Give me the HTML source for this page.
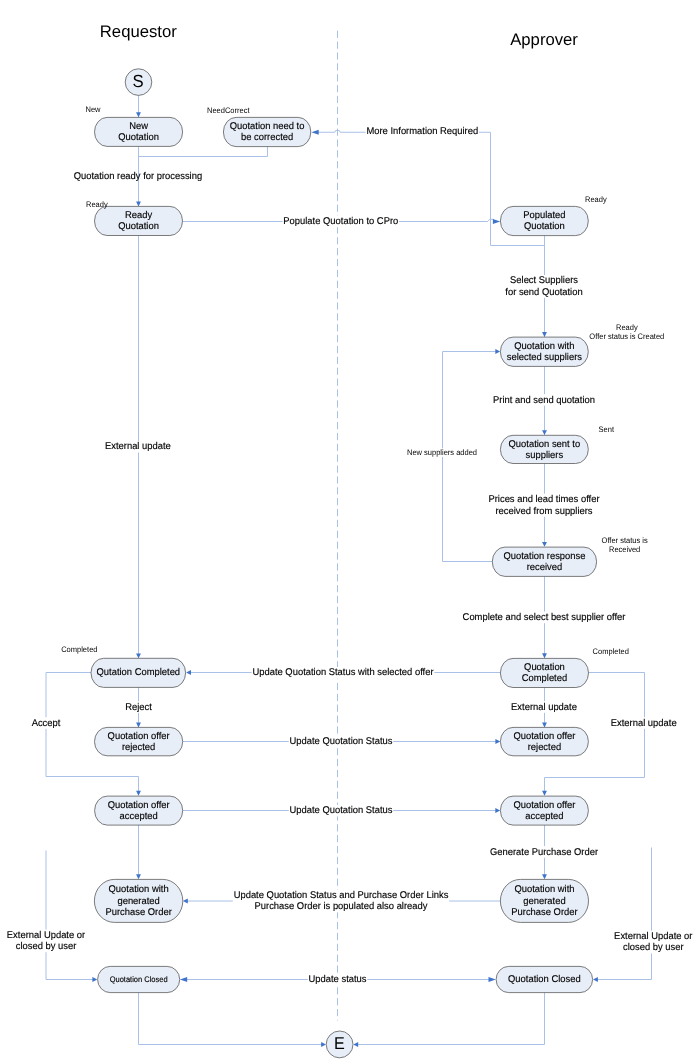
<!DOCTYPE html>
<html lang="en">
<head>
<meta charset="utf-8">
<title>Quotation workflow</title>
<style>
html, body { margin: 0; padding: 0; background: #ffffff; }
body { width: 700px; height: 1060px; overflow: hidden; }
svg { display: block; will-change: transform; }
svg text { font-family: "Liberation Sans", sans-serif; fill: #000; text-rendering: geometricPrecision; }
svg text.b { stroke: #000; stroke-width: 0.14px; }
</style>
</head>
<body>
<svg width="700" height="1060" viewBox="0 0 700 1060">
<rect x="0" y="0" width="700" height="1060" fill="#ffffff"/>
<path d="M337.5,30.7 L337.5,1020.5" fill="none" stroke="#a9c1e6" stroke-width="1" stroke-dasharray="7.2 3.67"/>
<path d="M138.50,95.00 L138.50,117.00" fill="none" stroke="#a9c1e6" stroke-width="1"/>
<polygon points="138.50,117.20 136.05,112.30 140.95,112.30" fill="#3f74cc"/>
<path d="M138.50,146.00 L138.50,206.00" fill="none" stroke="#a9c1e6" stroke-width="1"/>
<polygon points="138.50,206.40 136.05,201.50 140.95,201.50" fill="#3f74cc"/>
<path d="M267.50,146.00 L267.50,156.50 L138.50,156.50" fill="none" stroke="#a9c1e6" stroke-width="1"/>
<path d="M544.5,245.5 L490.5,245.5 L490.5,132.25 L340.2,132.25 A2.7,2.1 0 0 0 334.8,132.25 L315,132.25" fill="none" stroke="#a9c1e6" stroke-width="1"/>
<polygon points="311.40,132.25 318.70,129.65 318.70,134.85" fill="#3f74cc"/>
<path d="M182.5,221.5 L487.2,221.5 Q488.3,221.5 488.7,220.4 Q489.1,219.3 490.2,219.3 L493.5,219.3" fill="none" stroke="#a9c1e6" stroke-width="1"/>
<polygon points="500.20,221.50 492.90,218.90 492.90,224.10" fill="#3f74cc"/>
<path d="M138.50,235.00 L138.50,658.00" fill="none" stroke="#a9c1e6" stroke-width="1"/>
<polygon points="138.50,658.30 136.05,653.40 140.95,653.40" fill="#3f74cc"/>
<path d="M544.50,235.00 L544.50,337.00" fill="none" stroke="#a9c1e6" stroke-width="1"/>
<polygon points="544.50,337.00 542.05,332.10 546.95,332.10" fill="#3f74cc"/>
<path d="M544.50,366.00 L544.50,435.00" fill="none" stroke="#a9c1e6" stroke-width="1"/>
<polygon points="544.50,435.10 542.05,430.20 546.95,430.20" fill="#3f74cc"/>
<path d="M544.50,463.00 L544.50,546.00" fill="none" stroke="#a9c1e6" stroke-width="1"/>
<polygon points="544.50,546.80 542.05,541.90 546.95,541.90" fill="#3f74cc"/>
<path d="M492.50,561.50 L442.50,561.50 L442.50,351.50 L497.00,351.50" fill="none" stroke="#a9c1e6" stroke-width="1"/>
<polygon points="500.20,351.50 495.30,349.05 495.30,353.95" fill="#3f74cc"/>
<path d="M544.50,576.00 L544.50,658.00" fill="none" stroke="#a9c1e6" stroke-width="1"/>
<polygon points="544.50,658.20 542.05,653.30 546.95,653.30" fill="#3f74cc"/>
<path d="M500.40,672.50 L189.00,672.50" fill="none" stroke="#a9c1e6" stroke-width="1"/>
<polygon points="186.10,672.50 191.00,670.05 191.00,674.95" fill="#3f74cc"/>
<path d="M544.50,687.00 L544.50,727.00" fill="none" stroke="#a9c1e6" stroke-width="1"/>
<polygon points="544.50,727.40 542.05,722.50 546.95,722.50" fill="#3f74cc"/>
<path d="M588.50,672.50 L644.50,672.50 L644.50,777.50 L544.50,777.50 L544.50,795.00" fill="none" stroke="#a9c1e6" stroke-width="1"/>
<polygon points="544.50,795.70 542.05,790.80 546.95,790.80" fill="#3f74cc"/>
<path d="M138.50,687.00 L138.50,727.00" fill="none" stroke="#a9c1e6" stroke-width="1"/>
<polygon points="138.50,727.40 136.05,722.50 140.95,722.50" fill="#3f74cc"/>
<path d="M91.20,672.50 L46.00,672.50 L46.00,776.50 L138.50,776.50 L138.50,795.00" fill="none" stroke="#a9c1e6" stroke-width="1"/>
<polygon points="138.50,795.70 136.05,790.80 140.95,790.80" fill="#3f74cc"/>
<path d="M182.80,741.50 L497.00,741.50" fill="none" stroke="#a9c1e6" stroke-width="1"/>
<polygon points="500.30,741.50 495.40,739.05 495.40,743.95" fill="#3f74cc"/>
<path d="M182.80,810.50 L497.00,810.50" fill="none" stroke="#a9c1e6" stroke-width="1"/>
<polygon points="500.20,810.50 495.30,808.05 495.30,812.95" fill="#3f74cc"/>
<path d="M138.50,825.00 L138.50,878.00" fill="none" stroke="#a9c1e6" stroke-width="1"/>
<polygon points="138.50,879.20 136.05,874.30 140.95,874.30" fill="#3f74cc"/>
<path d="M544.50,825.00 L544.50,878.00" fill="none" stroke="#a9c1e6" stroke-width="1"/>
<polygon points="544.50,879.20 542.05,874.30 546.95,874.30" fill="#3f74cc"/>
<path d="M500.40,901.00 L186.00,901.00" fill="none" stroke="#a9c1e6" stroke-width="1"/>
<polygon points="182.90,901.00 187.80,898.55 187.80,903.45" fill="#3f74cc"/>
<path d="M46.00,850.50 L46.00,979.50 L94.00,979.50" fill="none" stroke="#a9c1e6" stroke-width="1"/>
<polygon points="97.30,979.50 92.40,977.05 92.40,981.95" fill="#3f74cc"/>
<path d="M651.50,847.50 L651.50,979.50 L596.00,979.50" fill="none" stroke="#a9c1e6" stroke-width="1"/>
<polygon points="593.00,979.50 597.90,977.05 597.90,981.95" fill="#3f74cc"/>
<path d="M184.00,979.50 L492.00,979.50" fill="none" stroke="#a9c1e6" stroke-width="1"/>
<polygon points="179.90,979.50 187.20,976.90 187.20,982.10" fill="#3f74cc"/>
<polygon points="495.80,979.50 488.50,976.90 488.50,982.10" fill="#3f74cc"/>
<path d="M138.50,992.50 L138.50,1044.50 L323.00,1044.50" fill="none" stroke="#a9c1e6" stroke-width="1"/>
<polygon points="326.00,1044.50 321.10,1042.05 321.10,1046.95" fill="#3f74cc"/>
<path d="M544.50,992.50 L544.50,1044.50 L356.00,1044.50" fill="none" stroke="#a9c1e6" stroke-width="1"/>
<polygon points="353.30,1044.50 358.20,1042.05 358.20,1046.95" fill="#3f74cc"/>
<text class="b" transform="translate(137.90,179.00) scale(0.9592,1)" font-size="9.8" text-anchor="middle">Quotation ready for processing</text>
<rect x="365.60" y="125.60" width="113.41" height="11.60" fill="#fff"/>
<text class="b" transform="translate(422.30,134.00) scale(0.9592,1)" font-size="9.8" text-anchor="middle">More Information Required</text>
<rect x="282.52" y="215.60" width="116.56" height="11.60" fill="#fff"/>
<text class="b" transform="translate(340.80,224.00) scale(0.9592,1)" font-size="9.8" text-anchor="middle">Populate Quotation to CPro</text>
<rect x="504.53" y="275.00" width="78.94" height="22.80" fill="#fff"/>
<text class="b" transform="translate(544.00,283.40) scale(0.9592,1)" font-size="9.8" text-anchor="middle">Select Suppliers</text>
<text class="b" transform="translate(544.00,294.60) scale(0.9592,1)" font-size="9.8" text-anchor="middle">for send Quotation</text>
<rect x="492.25" y="394.10" width="103.51" height="11.60" fill="#fff"/>
<text class="b" transform="translate(544.00,402.50) scale(0.9592,1)" font-size="9.8" text-anchor="middle">Print and send quotation</text>
<rect x="487.64" y="493.60" width="112.72" height="23.20" fill="#fff"/>
<text class="b" transform="translate(544.00,502.00) scale(0.9592,1)" font-size="9.8" text-anchor="middle">Prices and lead times offer</text>
<text class="b" transform="translate(544.00,513.60) scale(0.9592,1)" font-size="9.8" text-anchor="middle">received from suppliers</text>
<rect x="461.77" y="611.60" width="164.45" height="11.60" fill="#fff"/>
<text class="b" transform="translate(544.00,620.00) scale(0.9592,1)" font-size="9.8" text-anchor="middle">Complete and select best supplier offer</text>
<rect x="104.18" y="440.90" width="67.45" height="11.60" fill="#fff"/>
<text class="b" transform="translate(137.90,449.30) scale(0.9592,1)" font-size="9.8" text-anchor="middle">External update</text>
<rect x="251.63" y="667.00" width="182.75" height="11.60" fill="#fff"/>
<text class="b" transform="translate(343.00,675.40) scale(0.9592,1)" font-size="9.8" text-anchor="middle">Update Quotation Status with selected offer</text>
<rect x="288.73" y="735.60" width="104.55" height="11.60" fill="#fff"/>
<text class="b" transform="translate(341.00,744.00) scale(0.9592,1)" font-size="9.8" text-anchor="middle">Update Quotation Status</text>
<rect x="288.73" y="804.90" width="104.55" height="11.60" fill="#fff"/>
<text class="b" transform="translate(341.00,813.30) scale(0.9592,1)" font-size="9.8" text-anchor="middle">Update Quotation Status</text>
<rect x="510.28" y="701.20" width="67.45" height="11.60" fill="#fff"/>
<text class="b" transform="translate(544.00,709.60) scale(0.9592,1)" font-size="9.8" text-anchor="middle">External update</text>
<rect x="609.98" y="717.20" width="67.45" height="11.60" fill="#fff"/>
<text class="b" transform="translate(643.70,725.60) scale(0.9592,1)" font-size="9.8" text-anchor="middle">External update</text>
<rect x="124.38" y="701.20" width="28.24" height="11.60" fill="#fff"/>
<text class="b" transform="translate(138.50,709.60) scale(0.9592,1)" font-size="9.8" text-anchor="middle">Reject</text>
<rect x="30.83" y="717.20" width="30.34" height="11.60" fill="#fff"/>
<text class="b" transform="translate(46.00,725.60) scale(0.9592,1)" font-size="9.8" text-anchor="middle">Accept</text>
<rect x="489.12" y="846.10" width="109.76" height="11.60" fill="#fff"/>
<text class="b" transform="translate(544.00,854.50) scale(0.9592,1)" font-size="9.8" text-anchor="middle">Generate Purchase Order</text>
<rect x="232.82" y="889.60" width="216.36" height="22.80" fill="#fff"/>
<text class="b" transform="translate(341.00,898.00) scale(0.9592,1)" font-size="9.8" text-anchor="middle">Update Quotation Status and Purchase Order Links</text>
<text class="b" transform="translate(341.00,909.20) scale(0.9592,1)" font-size="9.8" text-anchor="middle">Purchase Order is populated also already</text>
<rect x="307.70" y="973.40" width="59.60" height="11.60" fill="#fff"/>
<text class="b" transform="translate(337.50,981.80) scale(0.9592,1)" font-size="9.8" text-anchor="middle">Update status</text>
<rect x="6.01" y="929.40" width="79.98" height="22.80" fill="#fff"/>
<text class="b" transform="translate(46.00,937.80) scale(0.9592,1)" font-size="9.8" text-anchor="middle">External Update or</text>
<text class="b" transform="translate(46.00,949.00) scale(0.9592,1)" font-size="9.8" text-anchor="middle">closed by user</text>
<rect x="613.31" y="930.60" width="79.98" height="22.80" fill="#fff"/>
<text class="b" transform="translate(653.30,939.00) scale(0.9592,1)" font-size="9.8" text-anchor="middle">External Update or</text>
<text class="b" transform="translate(653.30,950.20) scale(0.9592,1)" font-size="9.8" text-anchor="middle">closed by user</text>
<rect x="406.48" y="448.3" width="71.04" height="8.6" fill="#fff"/>
<text transform="translate(442.00,455.00) scale(0.9375,1)" font-size="8.0" text-anchor="middle">New suppliers added</text>
<circle cx="138.5" cy="82.1" r="13.3" fill="#e8eef8" stroke="#5a5a5a" stroke-width="0.8"/>
<text transform="translate(138.2,87.4) scale(0.95,1)" font-size="17.6" text-anchor="middle">S</text>
<circle cx="339.6" cy="1044.4" r="13.4" fill="#e8eef8" stroke="#5a5a5a" stroke-width="0.8"/>
<text transform="translate(339.3,1049.0) scale(0.95,1)" font-size="17.0" text-anchor="middle">E</text>
<rect x="94.50" y="117.40" width="88.10" height="29.00" rx="12.60" ry="14.50" fill="#e8eef8" stroke="#5a5a5a" stroke-width="0.8"/>
<text class="b" transform="translate(138.55,129.00) scale(0.9592,1)" font-size="9.8" text-anchor="middle">New</text>
<text class="b" transform="translate(138.55,140.00) scale(0.9592,1)" font-size="9.8" text-anchor="middle">Quotation</text>
<rect x="223.40" y="117.40" width="87.40" height="29.20" rx="12.60" ry="14.60" fill="#e8eef8" stroke="#5a5a5a" stroke-width="0.8"/>
<text class="b" transform="translate(267.10,129.00) scale(0.9592,1)" font-size="9.8" text-anchor="middle">Quotation need to</text>
<text class="b" transform="translate(267.10,140.00) scale(0.9592,1)" font-size="9.8" text-anchor="middle">be corrected</text>
<rect x="94.50" y="206.40" width="88.00" height="29.10" rx="12.60" ry="14.55" fill="#e8eef8" stroke="#5a5a5a" stroke-width="0.8"/>
<text class="b" transform="translate(138.50,218.00) scale(0.9592,1)" font-size="9.8" text-anchor="middle">Ready</text>
<text class="b" transform="translate(138.50,229.00) scale(0.9592,1)" font-size="9.8" text-anchor="middle">Quotation</text>
<rect x="500.40" y="206.40" width="87.90" height="29.20" rx="12.60" ry="14.60" fill="#e8eef8" stroke="#5a5a5a" stroke-width="0.8"/>
<text class="b" transform="translate(544.35,218.00) scale(0.9592,1)" font-size="9.8" text-anchor="middle">Populated</text>
<text class="b" transform="translate(544.35,229.00) scale(0.9592,1)" font-size="9.8" text-anchor="middle">Quotation</text>
<rect x="500.40" y="337.10" width="87.90" height="29.30" rx="12.60" ry="14.65" fill="#e8eef8" stroke="#5a5a5a" stroke-width="0.8"/>
<text class="b" transform="translate(544.35,349.00) scale(0.9592,1)" font-size="9.8" text-anchor="middle">Quotation with</text>
<text class="b" transform="translate(544.35,360.00) scale(0.9592,1)" font-size="9.8" text-anchor="middle">selected suppliers</text>
<rect x="500.40" y="435.30" width="87.90" height="28.20" rx="12.60" ry="14.10" fill="#e8eef8" stroke="#5a5a5a" stroke-width="0.8"/>
<text class="b" transform="translate(544.35,447.00) scale(0.9592,1)" font-size="9.8" text-anchor="middle">Quotation sent to</text>
<text class="b" transform="translate(544.35,458.00) scale(0.9592,1)" font-size="9.8" text-anchor="middle">suppliers</text>
<rect x="492.30" y="547.10" width="104.30" height="29.30" rx="12.60" ry="14.65" fill="#e8eef8" stroke="#5a5a5a" stroke-width="0.8"/>
<text class="b" transform="translate(544.45,559.00) scale(0.9592,1)" font-size="9.8" text-anchor="middle">Quotation response</text>
<text class="b" transform="translate(544.45,570.00) scale(0.9592,1)" font-size="9.8" text-anchor="middle">received</text>
<rect x="500.40" y="658.40" width="88.10" height="29.10" rx="12.60" ry="14.55" fill="#e8eef8" stroke="#5a5a5a" stroke-width="0.8"/>
<text class="b" transform="translate(544.45,670.00) scale(0.9592,1)" font-size="9.8" text-anchor="middle">Quotation</text>
<text class="b" transform="translate(544.45,681.00) scale(0.9592,1)" font-size="9.8" text-anchor="middle">Completed</text>
<rect x="91.00" y="658.30" width="94.60" height="29.10" rx="12.60" ry="14.55" fill="#e8eef8" stroke="#5a5a5a" stroke-width="0.8"/>
<text class="b" transform="translate(138.30,675.00) scale(0.9592,1)" font-size="9.8" text-anchor="middle">Qutation Completed</text>
<rect x="94.50" y="727.40" width="88.20" height="28.40" rx="12.60" ry="14.20" fill="#e8eef8" stroke="#5a5a5a" stroke-width="0.8"/>
<text class="b" transform="translate(138.60,739.00) scale(0.9592,1)" font-size="9.8" text-anchor="middle">Quotation offer</text>
<text class="b" transform="translate(138.60,750.00) scale(0.9592,1)" font-size="9.8" text-anchor="middle">rejected</text>
<rect x="500.40" y="727.40" width="88.00" height="28.40" rx="12.60" ry="14.20" fill="#e8eef8" stroke="#5a5a5a" stroke-width="0.8"/>
<text class="b" transform="translate(544.40,739.00) scale(0.9592,1)" font-size="9.8" text-anchor="middle">Quotation offer</text>
<text class="b" transform="translate(544.40,750.00) scale(0.9592,1)" font-size="9.8" text-anchor="middle">rejected</text>
<rect x="94.60" y="796.10" width="88.10" height="29.00" rx="12.60" ry="14.50" fill="#e8eef8" stroke="#5a5a5a" stroke-width="0.8"/>
<text class="b" transform="translate(138.65,808.00) scale(0.9592,1)" font-size="9.8" text-anchor="middle">Quotation offer</text>
<text class="b" transform="translate(138.65,819.00) scale(0.9592,1)" font-size="9.8" text-anchor="middle">accepted</text>
<rect x="500.40" y="796.10" width="88.00" height="29.00" rx="12.60" ry="14.50" fill="#e8eef8" stroke="#5a5a5a" stroke-width="0.8"/>
<text class="b" transform="translate(544.40,808.00) scale(0.9592,1)" font-size="9.8" text-anchor="middle">Quotation offer</text>
<text class="b" transform="translate(544.40,819.00) scale(0.9592,1)" font-size="9.8" text-anchor="middle">accepted</text>
<rect x="94.40" y="879.40" width="88.40" height="43.00" rx="20.00" ry="21.50" fill="#e8eef8" stroke="#5a5a5a" stroke-width="0.8"/>
<text class="b" transform="translate(138.60,892.00) scale(0.9592,1)" font-size="9.8" text-anchor="middle">Quotation with</text>
<text class="b" transform="translate(138.60,904.00) scale(0.9592,1)" font-size="9.8" text-anchor="middle">generated</text>
<text class="b" transform="translate(138.60,915.00) scale(0.9592,1)" font-size="9.8" text-anchor="middle">Purchase Order</text>
<rect x="500.40" y="879.40" width="88.10" height="43.00" rx="20.00" ry="21.50" fill="#e8eef8" stroke="#5a5a5a" stroke-width="0.8"/>
<text class="b" transform="translate(544.45,892.00) scale(0.9592,1)" font-size="9.8" text-anchor="middle">Quotation with</text>
<text class="b" transform="translate(544.45,904.00) scale(0.9592,1)" font-size="9.8" text-anchor="middle">generated</text>
<text class="b" transform="translate(544.45,915.00) scale(0.9592,1)" font-size="9.8" text-anchor="middle">Purchase Order</text>
<rect x="97.60" y="966.40" width="82.10" height="26.20" rx="12.60" ry="13.10" fill="#e8eef8" stroke="#5a5a5a" stroke-width="0.8"/>
<text class="b" transform="translate(138.65,982.00) scale(0.9375,1)" font-size="8.0" text-anchor="middle">Quotation Closed</text>
<rect x="496.10" y="966.40" width="96.50" height="26.20" rx="12.60" ry="13.10" fill="#e8eef8" stroke="#5a5a5a" stroke-width="0.8"/>
<text class="b" transform="translate(544.35,982.00) scale(0.9592,1)" font-size="9.8" text-anchor="middle">Quotation Closed</text>
<text transform="translate(85.50,111.60) scale(0.9375,1)" font-size="8.0" text-anchor="start">New</text>
<text transform="translate(207.00,113.00) scale(0.9375,1)" font-size="8.0" text-anchor="start">NeedCorrect</text>
<text transform="translate(86.00,206.60) scale(0.9375,1)" font-size="8.0" text-anchor="start">Ready</text>
<text transform="translate(585.00,202.00) scale(0.9375,1)" font-size="8.0" text-anchor="start">Ready</text>
<text transform="translate(626.80,329.60) scale(0.9375,1)" font-size="8.0" text-anchor="middle">Ready</text>
<text transform="translate(626.80,338.80) scale(0.9375,1)" font-size="8.0" text-anchor="middle">Offer status is Created</text>
<text transform="translate(598.60,431.80) scale(0.9375,1)" font-size="8.0" text-anchor="start">Sent</text>
<text transform="translate(624.60,542.90) scale(0.9375,1)" font-size="8.0" text-anchor="middle">Offer status is</text>
<text transform="translate(624.60,552.10) scale(0.9375,1)" font-size="8.0" text-anchor="middle">Received</text>
<text transform="translate(592.60,654.20) scale(0.9375,1)" font-size="8.0" text-anchor="start">Completed</text>
<text transform="translate(61.20,652.00) scale(0.9375,1)" font-size="8.0" text-anchor="start">Completed</text>
<text x="99.8" y="37.2" font-size="16.7">Requestor</text>
<text x="510.2" y="45.0" font-size="16.7">Approver</text>
</svg>
</body>
</html>
